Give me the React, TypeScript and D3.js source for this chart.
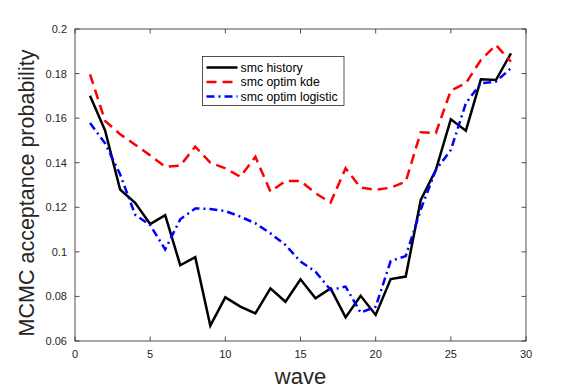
import React from "react";
import * as d3 from "d3";

const waves = d3.range(1, 30);
const history = [0.170, 0.1545, 0.128, 0.122, 0.1125, 0.1165, 0.094, 0.0976, 0.0669, 0.0796, 0.0754, 0.0724, 0.0836, 0.0776, 0.0877, 0.0792, 0.0836, 0.0706, 0.0803, 0.0717, 0.0878, 0.0889, 0.1233, 0.1367, 0.1595, 0.1544, 0.1774, 0.1771, 0.1891];
const kde = [0.1796, 0.1588, 0.1528, 0.1481, 0.1433, 0.1382, 0.1387, 0.1472, 0.1400, 0.1375, 0.1337, 0.1427, 0.1270, 0.1318, 0.1318, 0.1263, 0.1221, 0.1375, 0.1288, 0.1278, 0.1288, 0.1315, 0.1537, 0.1533, 0.1724, 0.1757, 0.1861, 0.1928, 0.1853];
const logistic = [0.1578, 0.1487, 0.1348, 0.1167, 0.112, 0.1011, 0.1146, 0.1195, 0.1192, 0.1183, 0.1158, 0.1128, 0.1083, 0.1031, 0.0956, 0.0911, 0.0829, 0.0844, 0.0727, 0.0754, 0.0959, 0.0981, 0.119, 0.1367, 0.1457, 0.1667, 0.1756, 0.1764, 0.1824];
const seriesNames = ["smc history", "smc optim kde", "smc optim logistic"];
const xTicks = [0, 5, 10, 15, 20, 25, 30];
const yTicks = [0.06, 0.08, 0.1, 0.12, 0.14, 0.16, 0.18, 0.2];
const yTickLabels = ["0.06", "0.08", "0.1", "0.12", "0.14", "0.16", "0.18", "0.2"];

const W = 581, H = 388;
const L = 75, R = 526, T = 29, B = 341;
const axisColor = "#262626";
const font = "'Liberation Sans', Arial, Helvetica, sans-serif";

export default function App() {
  const x = d3.scaleLinear().domain([0, 30]).range([L, R]);
  const y = d3.scaleLinear().domain([0.06, 0.2]).range([B, T]);
  const line = d3.line<number>().x((_, i) => x(waves[i])).y((d) => y(d));
  const styles = [
    { color: "#000000", dash: undefined as string | undefined },
    { color: "#ff0000", dash: "10 6" },
    { color: "#0000ff", dash: "8 4 2 4" },
  ];
  const data = [history, kde, logistic];
  const tick = 4.5;
  return (
    <svg width={W} height={H} style={{ position: "absolute", left: 0, top: 0, background: "#fff" }} fontFamily={font}>
      <rect x={0} y={0} width={W} height={H} fill="#fff" />
      <rect x={L} y={T} width={R - L} height={B - T} fill="none" stroke={axisColor} strokeWidth={0.8} />
      {xTicks.map((t) => (
        <g key={"x" + t}>
          <line x1={x(t)} x2={x(t)} y1={B} y2={B - tick} stroke={axisColor} strokeWidth={0.8} />
          <line x1={x(t)} x2={x(t)} y1={T} y2={T + tick} stroke={axisColor} strokeWidth={0.8} />
          <text x={x(t)} y={B + 17} fontSize={11} fill={axisColor} textAnchor="middle">{t}</text>
        </g>
      ))}
      {yTicks.map((t, i) => (
        <g key={"y" + t}>
          <line x1={L} x2={L + tick} y1={y(t)} y2={y(t)} stroke={axisColor} strokeWidth={0.8} />
          <line x1={R} x2={R - tick} y1={y(t)} y2={y(t)} stroke={axisColor} strokeWidth={0.8} />
          <text x={L - 8} y={y(t) + 4} fontSize={11} fill={axisColor} textAnchor="end">{yTickLabels[i]}</text>
        </g>
      ))}
      {data.map((d, i) => (
        <path key={"s" + i} d={line(d) || ""} fill="none" stroke={styles[i].color} strokeWidth={2.5}
          strokeDasharray={styles[i].dash} strokeLinejoin="miter" />
      ))}
      <text x={(L + R) / 2} y={383.5} fontSize={22} fill={axisColor} textAnchor="middle">wave</text>
      <text transform={`translate(33.5,193) rotate(-90)`} fontSize={21.5} fill={axisColor} textAnchor="middle">MCMC acceptance probability</text>
      <g>
        <rect x={202.5} y={56.5} width={141.5} height={49} fill="#fff" stroke={axisColor} strokeWidth={0.8} />
        {seriesNames.map((n, i) => {
          const ly = 67.5 + i * 14.5;
          return (
            <g key={n}>
              <line x1={206.5} x2={237.5} y1={ly} y2={ly} stroke={styles[i].color} strokeWidth={2.5} strokeDasharray={styles[i].dash} />
              <text x={240.5} y={ly + 4.3} fontSize={12.3} fill="#000">{n}</text>
            </g>
          );
        })}
      </g>
    </svg>
  );
}
